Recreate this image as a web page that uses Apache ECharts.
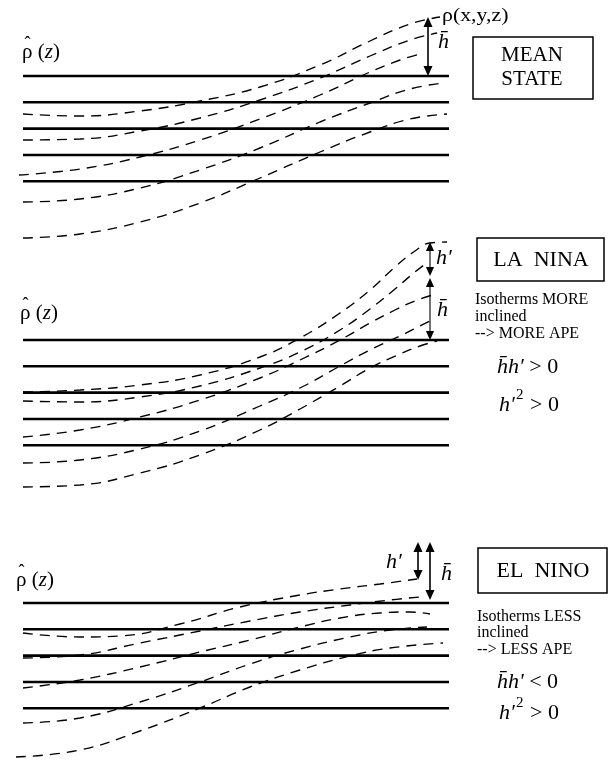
<!DOCTYPE html>
<html>
<head>
<meta charset="utf-8">
<script src="https://cdn.jsdelivr.net/npm/echarts@6/dist/echarts.min.js"></script>
<style>
html, body { margin: 0; padding: 0; background: #ffffff; }
#chart { width: 610px; height: 761px; }
</style>
</head>
<body>
<div id="chart"></div>
<script>
// Depths of the horizontally averaged isopycnals, relative to the upper one
const meanDepths = [0, 26.3, 52.6, 79, 105.3];
// Zonal extent of the reference profile
const zonalExtent = [23, 449];

// Mean state: tilted isopycnals [zonal distance, depth]
const meanIso1 = [[23,38],[80,40],[140,35],[200,25],[260,11],[320,-11],[370,-35],[410,-52],[440,-59]];
const meanIso2 = [[23,64],[80,63],[140,55],[200,42],[260,24],[320,2],[370,-20],[410,-36],[437,-43]];
const meanIso3 = [[19,99],[80,93],[140,81],[200,64],[260,43],[320,19],[370,-4],[400,-16],[420,-22]];
const meanIso4 = [[23,126],[80,123],[140,112],[200,94],[260,72],[320,46],[370,27],[410,13],[443,7]];
const meanIso5 = [[23,162],[80,158],[140,146],[200,127],[260,102],[320,76],[370,56],[410,43],[447,38]];

// La Nina: steeper isopycnals
const ninaIso1 = [[23,52],[80,50],[140,45],[200,35],[260,17],[300,-2],[340,-27],[370,-50],[395,-73],[415,-89],[430,-97],[447,-98]];
const ninaIso2 = [[23,61],[80,62],[140,57],[200,46],[260,28],[300,12],[340,-10],[370,-31],[395,-51],[415,-68],[428,-78]];
const ninaIso3 = [[23,97],[80,90],[140,77],[200,60],[260,38],[300,20],[340,0],[370,-17],[395,-30],[415,-39],[436,-46]];
const ninaIso4 = [[23,123],[80,120],[140,109],[200,91],[260,66],[300,48],[340,26],[370,10],[400,-4],[420,-14],[432,-20]];
const ninaIso5 = [[23,147],[80,145],[140,133],[200,115],[260,90],[300,69],[340,46],[370,28],[400,14],[420,6],[437,1]];

// El Nino: flatter isopycnals
const ninoIso1 = [[23,30],[80,34],[120,33],[180,21],[240,4],[300,-8],[340,-14],[380,-19],[417,-24]];
const ninoIso2 = [[23,55],[80,52],[140,40],[200,28],[250,18],[300,9],[350,2],[390,-3],[420,-6]];
const ninoIso3 = [[23,85],[80,77],[140,64],[200,49],[250,37],[300,24],[340,15],[380,10],[410,9],[430,11]];
const ninoIso4 = [[23,120],[80,115],[140,99],[200,79],[250,61],[300,46],[350,34],[390,27],[427,24]];
const ninoIso5 = [[16,154],[80,147],[140,128],[200,105],[250,84],[300,67],[350,53],[390,45],[443,40]];

// Thickness arrows [zonal distance, upper depth, lower depth]
const meanArrows = [[428, -59, 0]];
const ninaArrows = [[430, -98, -64], [430, -62, 0]];
const ninoArrows = [[418, -61, -23], [430, -61, -3]];

const panels = [
  { curves: [meanIso1, meanIso2, meanIso3, meanIso4, meanIso5], arrows: meanArrows,
    grid: { top: 0, height: 260 }, depthRange: [-76, 184], arrowWidth: 1.6, head: 10 },
  { curves: [ninaIso1, ninaIso2, ninaIso3, ninaIso4, ninaIso5], arrows: ninaArrows,
    grid: { top: 230, height: 280 }, depthRange: [-110, 170], arrowWidth: 1.1, head: 9 },
  { curves: [ninoIso1, ninoIso2, ninoIso3, ninoIso4, ninoIso5], arrows: ninoArrows,
    grid: { top: 533, height: 228 }, depthRange: [-70, 158], arrowWidth: 1.6, head: 10 }
];

const ink = '#000000';
const serif = '"Liberation Serif", "Times New Roman", serif';

const grids = [], xAxes = [], yAxes = [], series = [];
panels.forEach((p, i) => {
  grids.push({ left: 0, width: 449, top: p.grid.top, height: p.grid.height, containLabel: false });
  xAxes.push({ type: 'value', gridIndex: i, min: 0, max: 449, show: false });
  yAxes.push({ type: 'value', gridIndex: i, min: p.depthRange[0], max: p.depthRange[1], inverse: true, show: false });

  // horizontally averaged isopycnals (solid)
  meanDepths.forEach(d => {
    series.push({
      type: 'line', xAxisIndex: i, yAxisIndex: i, silent: true, symbol: 'none',
      data: [[zonalExtent[0], d], [zonalExtent[1], d]],
      lineStyle: { color: ink, width: 2.6 }
    });
  });

  // actual isopycnals (dashed)
  p.curves.forEach(c => {
    series.push({
      type: 'line', xAxisIndex: i, yAxisIndex: i, silent: true, symbol: 'none',
      smooth: 0.45, data: c,
      lineStyle: { color: ink, width: 1.35, type: [10, 7] }
    });
  });

  // double-headed thickness arrows
  series.push({
    type: 'custom', xAxisIndex: i, yAxisIndex: i, silent: true, data: p.arrows,
    renderItem: (params, api) => {
      const a = api.coord([api.value(0), api.value(1)]);
      const b = api.coord([api.value(0), api.value(2)]);
      const hl = p.head, hw = p.head * 0.45;
      return {
        type: 'group',
        children: [
          { type: 'line', shape: { x1: a[0], y1: a[1] + hl * 0.8, x2: b[0], y2: b[1] - hl * 0.8 },
            style: { stroke: ink, lineWidth: p.arrowWidth } },
          { type: 'polygon', shape: { points: [[a[0], a[1]], [a[0] - hw, a[1] + hl], [a[0] + hw, a[1] + hl]] },
            style: { fill: ink } },
          { type: 'polygon', shape: { points: [[b[0], b[1]], [b[0] - hw, b[1] - hl], [b[0] + hw, b[1] - hl]] },
            style: { fill: ink } }
        ]
      };
    }
  });
});

function txt(x, y, text, size, extra) {
  return Object.assign({
    type: 'text', x: x, y: y, silent: true,
    style: {
      text: text, fill: ink, font: size + 'px ' + serif,
      textAlign: (extra && extra.align) || 'left', textVerticalAlign: 'middle'
    }
  }, (extra && extra.el) || {});
}

function italic(x, y, text, size) {
  return {
    type: 'text', x: x, y: y, silent: true,
    style: { text: text, fill: ink, font: 'italic ' + size + 'px ' + serif, textVerticalAlign: 'middle' }
  };
}

// hatted rho with its argument: ρ̂ (z)
function rhoHat(x, y) {
  return [
    {
      type: 'text', x: x, y: y, silent: true,
      style: {
        text: '{r|ρ (}{z|z}{r|)}', textVerticalAlign: 'middle',
        rich: {
          r: { fontFamily: serif, fontSize: 21, fill: ink },
          z: { fontFamily: serif, fontSize: 21, fontStyle: 'italic', fill: ink }
        }
      }
    },
    {
      type: 'text', x: x + 5.5, y: y - 8, silent: true,
      style: { text: '\u02C6', fill: ink, font: '18px ' + serif, textAlign: 'center', textVerticalAlign: 'middle' }
    }
  ];
}

// product relation such as  h̄h′ > 0
function relation(x, y, lhs, rhs) {
  return {
    type: 'text', x: x, y: y, silent: true,
    style: {
      text: '{i|' + lhs + '}{r| ' + rhs + '}', textVerticalAlign: 'middle',
      rich: {
        i: { fontFamily: serif, fontSize: 22, fontStyle: 'italic', fill: ink },
        r: { fontFamily: serif, fontSize: 22, fill: ink }
      }
    }
  };
}

// squared perturbation relation  h′² > 0
function squared(x, y) {
  return [
    italic(x, y, 'h\u2032', 22),
    txt(x + 17, y - 10, '2', 15),
    txt(x + 31, y, '> 0', 22)
  ];
}

function box(x, y, w, h) {
  return { type: 'rect', silent: true, shape: { x: x, y: y, width: w, height: h },
    style: { fill: 'none', stroke: ink, lineWidth: 1.5 } };
}

const graphics = [].concat(
  // Mean state
  rhoHat(22, 52),
  [txt(442, 16, 'ρ(x,y,z)', 19, { el: { scaleX: 1.15, originX: 0, originY: 0 } }),
   italic(438, 42, 'h\u0304', 22),
   box(473, 37, 120, 62),
   txt(532, 55, 'MEAN', 21, { align: 'center' }),
   txt(532, 79, 'STATE', 21, { align: 'center' })],

  // La Nina
  rhoHat(20, 313),
  [italic(436, 258, 'h\u2032', 22),
   italic(437, 310, 'h\u0304', 22),
   box(477, 238, 127, 43),
   txt(541, 260, 'LA  NINA', 22, { align: 'center' }),
   txt(475, 300, 'Isotherms MORE', 16),
   txt(475, 317, 'inclined', 16),
   txt(475, 334, '--> MORE APE', 16),
   relation(497, 367, 'h\u0304h\u2032', '> 0')],
  squared(499, 405),

  // El Nino
  rhoHat(16, 580),
  [italic(386, 562, 'h\u2032', 22),
   italic(441, 574, 'h\u0304', 22),
   box(478, 548, 129, 45),
   txt(543, 571, 'EL  NINO', 22, { align: 'center' }),
   txt(477, 617, 'Isotherms LESS', 16),
   txt(477, 633, 'inclined', 16),
   txt(477, 650, '--> LESS APE', 16),
   relation(497, 682, "h\u0304h'", '< 0')],
  squared(499, 713)
);

const chart = echarts.init(document.getElementById('chart'), null, { renderer: 'canvas' });
chart.setOption({
  backgroundColor: '#ffffff',
  animation: false,
  grid: grids,
  xAxis: xAxes,
  yAxis: yAxes,
  series: series,
  graphic: { elements: graphics }
});
</script>
</body>
</html>
